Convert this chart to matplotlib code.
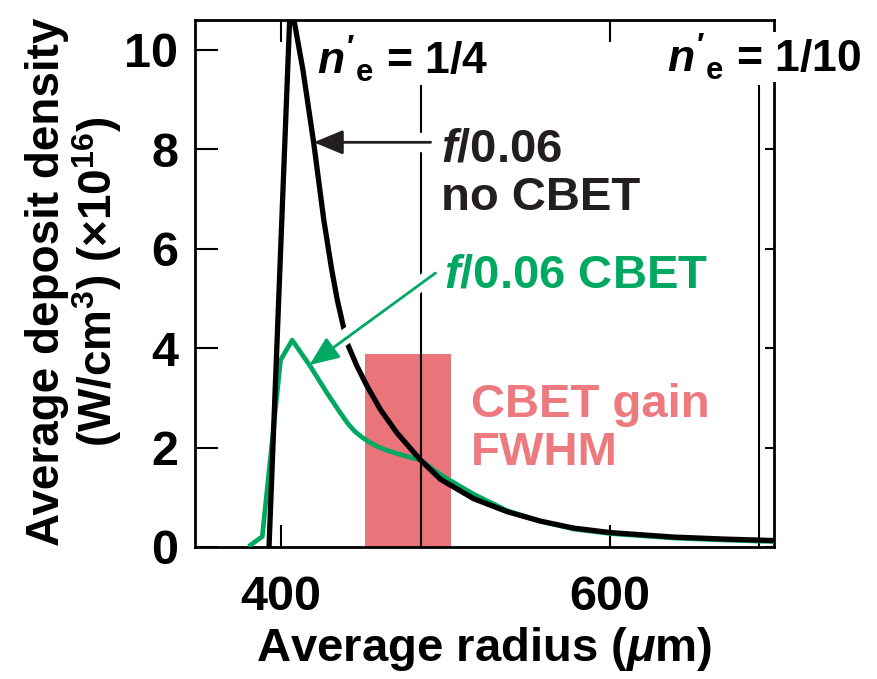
import matplotlib
matplotlib.use("Agg")
import matplotlib.pyplot as plt

plt.rcParams['font.family'] = ['Liberation Sans', 'DejaVu Sans']
plt.rcParams['font.weight'] = 'bold'
plt.rcParams['mathtext.fontset'] = 'custom'
plt.rcParams['mathtext.rm'] = 'Liberation Sans:bold'
plt.rcParams['mathtext.bf'] = 'Liberation Sans:bold'
plt.rcParams['mathtext.it'] = 'Liberation Sans:bold:italic'

# no CBET (black) curve
r_black = [393, 406, 413.6, 420.2, 426.3, 431, 434.5, 440.5, 446.6, 452.7, 460.8,
           470.9, 485.1, 497.3, 517.5, 537.8, 558, 578.3, 600.6, 639, 669.6, 700]
v_black = [0, 11.0, 9.60, 8.12, 6.58, 5.60, 4.97, 4.10, 3.63, 3.23, 2.76,
           2.29, 1.75, 1.36, 0.97, 0.71, 0.52, 0.38, 0.29, 0.20, 0.16, 0.13]

# CBET (green) curve
r_green = [381.8, 388.9, 400, 407.1, 418.2, 428.4, 436.5, 441, 445, 449, 453.5, 459,
           464.9, 477, 485.1, 497.3, 517.5, 537.8, 558, 578.3, 600.6, 639, 669.6, 700]
v_green = [0.04, 0.21, 3.76, 4.16, 3.63, 3.09, 2.69, 2.48, 2.33, 2.22, 2.12, 2.02,
           1.94, 1.82, 1.75, 1.45, 1.06, 0.73, 0.52, 0.36, 0.27, 0.18, 0.14, 0.11]

band = [451.5, 503.8]   # CBET gain FWHM
band_top = 3.88
ne_lines = [485.1, 690.8]  # n'_e = 1/4, 1/10

green = '#00a862'
pink = '#e97479'
dark = '#231f20'

fig = plt.figure(figsize=(8.78, 6.79), dpi=100)
ax = fig.add_axes([195 / 878, 132 / 679, 579 / 878, 527 / 679])

ax.fill_between(band, 0, band_top, color=pink, lw=0, zorder=1)
ax.vlines(ne_lines, 0, 9.3, color='black', lw=1.5, zorder=2)
ax.plot(r_green, v_green, color=green, lw=3.4, zorder=3)
ax.plot(r_black, v_black, color='black', lw=3.8, zorder=4)

ax.set_xlim(348, 700)
ax.set_ylim(0, 10.6)
ax.set_xticks([400, 600])
ax.set_yticks([0, 2, 4, 6, 8, 10])

for s in ax.spines.values():
    s.set_linewidth(2)
ax.tick_params(direction='in', top=True, right=True, width=1.5, labelsize=35)
ax.tick_params(axis='x', length=16, pad=20)
ax.tick_params(axis='y', length=16.5, pad=12)
for t in ax.yaxis.get_major_ticks():
    t.tick2line.set_markersize(6.5)

ax.set_xlabel(r'Average radius ($\mu$m)', fontsize=34, fontweight='bold', labelpad=4)
fig.text(47 / 878, 1 - 282 / 679, 'Average deposit density', rotation=90,
         ha='center', va='center', fontsize=33)
fig.text(97 / 878, 1 - 282 / 679, r'(W/cm$^{3}$) (×10$^{16}$)', rotation=90,
         ha='center', va='center', fontsize=33)

# white gaps where the arrow shafts cross other lines
ax.plot([436, 491.2], [8.14, 8.14], color='white', lw=14,
        solid_capstyle='butt', zorder=4.5)
ax.plot([430.5, 494.2], [4.02, 5.51], color='white', lw=11,
        solid_capstyle='butt', zorder=4.5)

arrow = '-|>,head_length=0.6,head_width=0.25'
ax.annotate('', xy=(420.2, 8.14), xytext=(491.2, 8.14),
            arrowprops=dict(arrowstyle=arrow, mutation_scale=30, color=dark,
                            lw=2, shrinkA=0, shrinkB=0),
            zorder=5)
ax.annotate('', xy=(417.6, 3.66), xytext=(494.2, 5.51),
            arrowprops=dict(arrowstyle=arrow, mutation_scale=30, color=green,
                            lw=2, shrinkA=0, shrinkB=0),
            zorder=5)

ax.text(497.3, 6.78, '$f$/0.06\nno CBET', fontsize=34, color=dark,
        ha='left', va='baseline', linespacing=1.12, zorder=6)
ax.text(499.1, 5.21, '$f$/0.06 CBET', fontsize=34, color=green,
        ha='left', va='baseline', zorder=6)
ax.text(515.5, 1.65, 'CBET gain\nFWHM', fontsize=34, color='#ec7a7f',
        ha='left', va='baseline', linespacing=1.12, zorder=6)

ax.text(422.3, 9.5, "$n'_\\mathrm{e}$ = 1/4", fontsize=32, color='black',
        ha='left', va='baseline', zorder=6)
ax.text(635, 9.54, "$n'_\\mathrm{e}$ = 1/10", fontsize=32, color='black',
        ha='left', va='baseline', zorder=6, clip_on=False,
        bbox=dict(facecolor='white', edgecolor='none', pad=0))

fig.savefig('out.png', dpi=100)
